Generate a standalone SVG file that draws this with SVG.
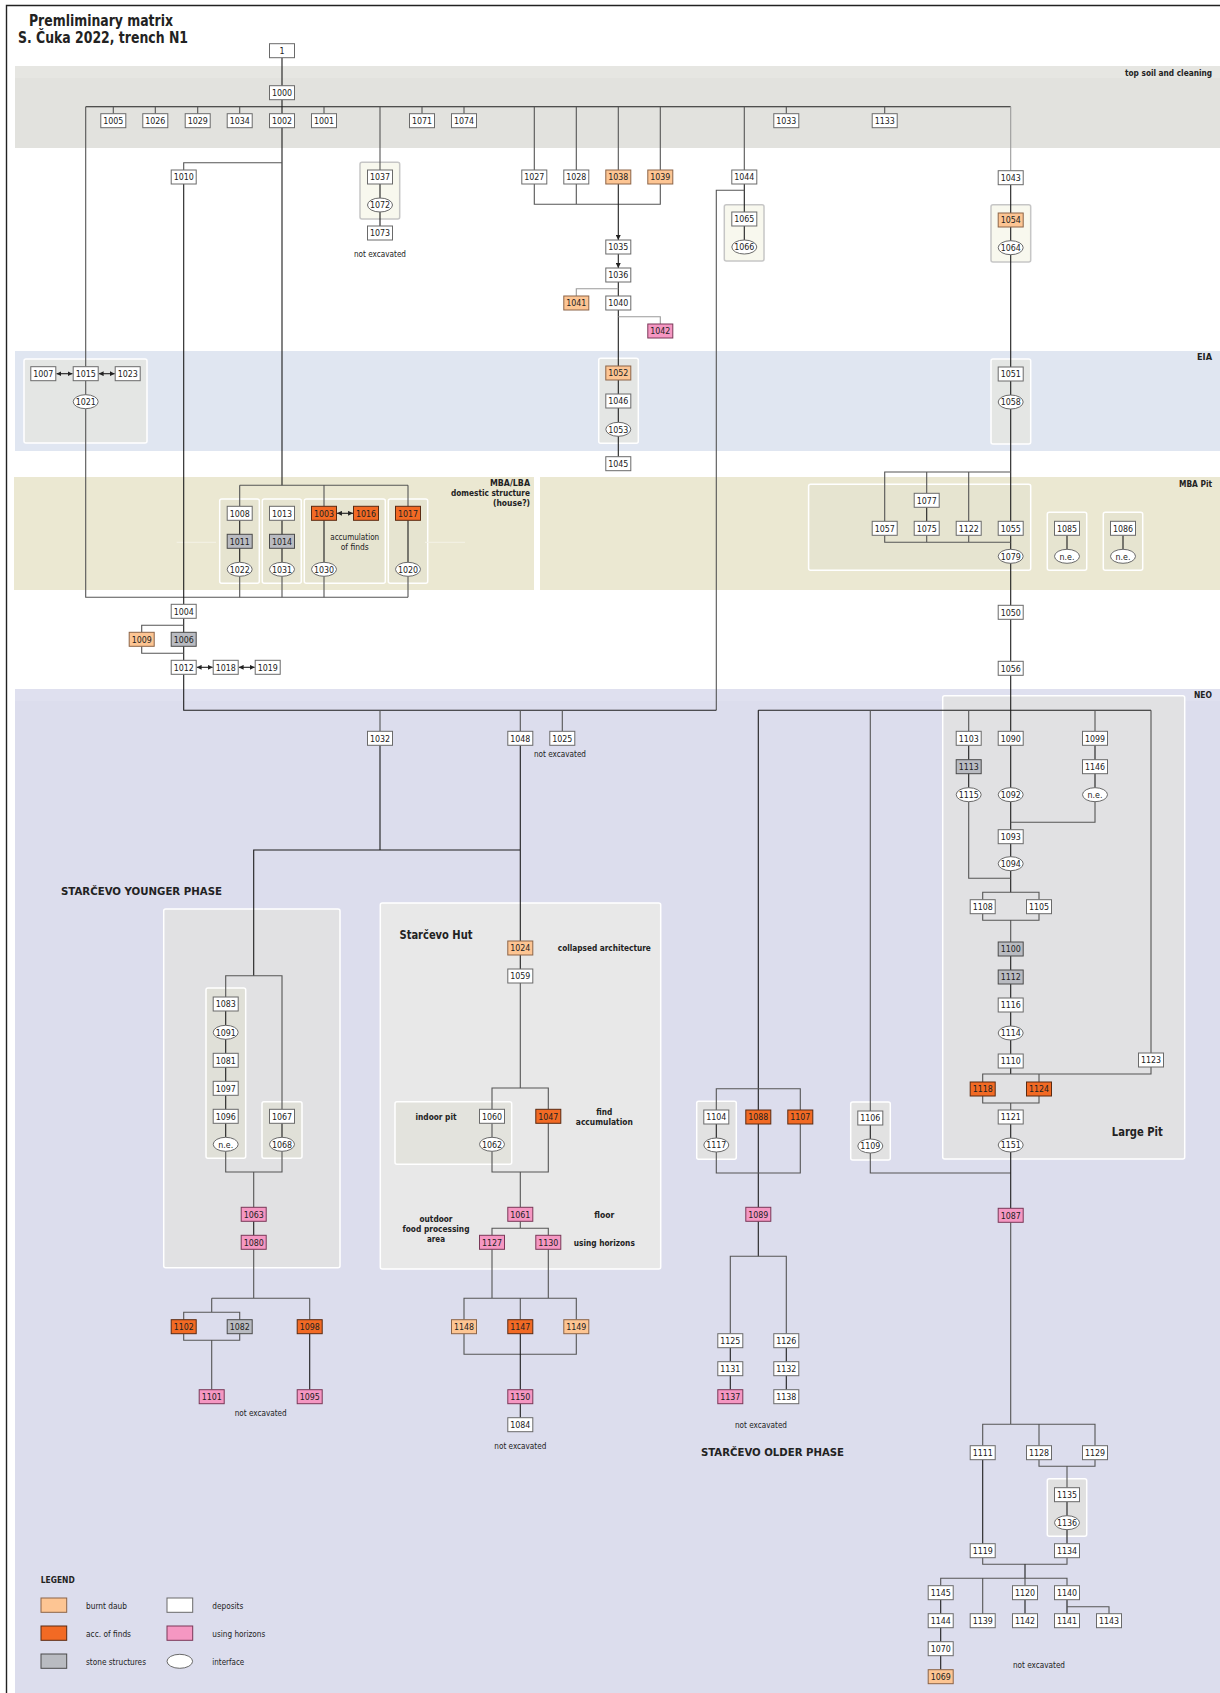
<svg xmlns="http://www.w3.org/2000/svg" width="1220" height="1693" viewBox="0 0 1220 1693">
<defs>
<style>
.nd rect{fill:#fff;stroke:#6a6a6a;stroke-width:1}
.nd ellipse{fill:#fff;stroke:#6a6a6a;stroke-width:1}
.nd.b rect{fill:#fdc593;stroke:#8c6448}
.nd.a rect{fill:#f26a24;stroke:#5a2a12}
.nd.s rect{fill:#b9bbc1;stroke:#4a4a4a}
.nd.u rect{fill:#f597c2;stroke:#7a3858}
.nd text{font-family:"DejaVu Sans Condensed","Liberation Sans",sans-serif;font-size:8.8px;fill:#222;text-anchor:middle}
.t{font-family:"DejaVu Sans Condensed","Liberation Sans",sans-serif;font-size:9px;fill:#222}
.tb{font-family:"DejaVu Sans Condensed","Liberation Sans",sans-serif;font-size:9px;font-weight:bold;fill:#222}
.m{text-anchor:middle}
.e{text-anchor:end}
.c path{fill:none;stroke-width:1.1}
.k{stroke:#1e1e1e}
.g{stroke:#555}
.l{stroke:#9a9a9a}
.bx{stroke:#fff;stroke-width:1.5}
</style>
<marker id="ah" viewBox="0 0 6 6" refX="6" refY="3" markerWidth="4.5" markerHeight="4.5" orient="auto-start-reverse"><path d="M0,0 L6,3 L0,6 z" fill="#222"/></marker>
</defs>
<rect x="0" y="0" width="1220" height="1693" fill="#fff"/>
<path d="M6.5,1693 V5.5 H1220" fill="none" stroke="#222" stroke-width="1.4"/>
<g id="bands">
<rect x="15" y="66" width="1205" height="82" fill="#e2e2de"/>
<rect x="15" y="66" width="1205" height="12" fill="#e6e6e2"/>
<rect x="15" y="351" width="1205" height="100" fill="#e0e6f1"/>
<rect x="14" y="477" width="520" height="113" fill="#ebe8d2"/>
<rect x="540" y="477" width="680" height="113" fill="#ebe8d2"/>
<rect x="15" y="689" width="1205" height="1004" fill="#dcdded"/>
<rect x="15" y="689" width="1205" height="12" fill="#dfe0ef"/>
</g>
<g id="boxes">
<rect class="bx" x="24" y="359" width="123" height="84" rx="2" fill="#e4e6e4"/>
<rect class="bx" x="598.7" y="358.3" width="39.6" height="85" rx="2" fill="#e4e6e4"/>
<rect class="bx" x="991" y="359" width="39.7" height="85" rx="2" fill="#e4e6e4"/>
<rect x="360" y="162.3" width="39.7" height="56.7" rx="2" fill="#f8f8ee" stroke="#c6c6c6" stroke-width="1.5"/>
<rect x="724.3" y="204.7" width="39.7" height="56.3" rx="2" fill="#f8f8ee" stroke="#c6c6c6" stroke-width="1.5"/>
<rect x="991" y="204.7" width="39.7" height="57.3" rx="2" fill="#f8f8ee" stroke="#c6c6c6" stroke-width="1.5"/>
<rect class="bx" x="219.7" y="499" width="39.6" height="84.3" rx="2" fill="#e6e4d0"/>
<rect class="bx" x="262.3" y="499" width="39" height="84.3" rx="2" fill="#e6e4d0"/>
<rect class="bx" x="304.3" y="499" width="81" height="84.3" rx="2" fill="#e6e4d0"/>
<rect class="bx" x="388.3" y="499" width="39.4" height="84.3" rx="2" fill="#e6e4d0"/>
<path d="M176.7,542.3 H216 M425,542.3 H465" stroke="#f4f2e6" stroke-width="1"/>
<rect class="bx" x="808.6" y="484.3" width="222.1" height="86" rx="2" fill="#e6e4d0"/>
<rect class="bx" x="1047.3" y="512.3" width="39.4" height="58" rx="2" fill="#e6e4d0"/>
<rect class="bx" x="1103.3" y="512.3" width="39.4" height="58" rx="2" fill="#e6e4d0"/>
<rect class="bx" x="942.7" y="695.7" width="242" height="463.3" rx="2" fill="#e1e1e3"/>
<rect class="bx" x="163.7" y="909" width="176.3" height="358.7" rx="2" fill="#e1e1e3"/>
<rect class="bx" x="206" y="988" width="39.7" height="170.3" rx="2" fill="#e0e0d8"/>
<rect class="bx" x="262" y="1101.7" width="40" height="56.6" rx="2" fill="#e0e0d8"/>
<rect class="bx" x="380.3" y="903" width="280.4" height="366" rx="2" fill="#e8e8e8"/>
<rect class="bx" x="395" y="1101.7" width="116.7" height="62.6" rx="2" fill="#e3e3dd"/>
<rect class="bx" x="696.7" y="1101.3" width="39.6" height="58" rx="2" fill="#e2e2e2"/>
<rect class="bx" x="850.7" y="1102" width="39.6" height="58" rx="2" fill="#e2e2e2"/>
<rect class="bx" x="1047.3" y="1478.7" width="39.4" height="57.6" rx="2" fill="#e0e0e0"/>
</g>
<g id="connectors" class="c">
<path class="k" d="M282,57.7 V86 M282,99.7 V485.3"/>
<path class="k" d="M85.7,106.7 H1010.7"/>
<path class="g" d="M113.3,106.7 V113.7 M155.3,106.7 V113.7 M197.7,106.7 V113.7 M239.7,106.7 V113.7 M324,106.7 V113.7 M422,106.7 V113.7 M464,106.7 V113.7 M786.3,106.7 V113.7 M884.7,106.7 V113.7"/>
<path class="g" d="M85.7,106.7 V366.7 M85.7,380.7 V395 M85.7,408.7 V597.3 H408"/>
<path class="g" d="M380,106.7 V170"/>
<path class="k" d="M380,184 V226"/>
<path class="g" d="M534.3,106.7 V170 M576.3,106.7 V170 M618.3,106.7 V170 M660.3,106.7 V170"/>
<path class="g" d="M534.3,184 V204.3 H660.3 V184 M576.3,184 V204.3"/>
<path class="k" d="M618.3,184 V240" marker-end="url(#ah)"/>
<path class="k" d="M618.3,254 V268" marker-end="url(#ah)"/>
<path class="k" d="M618.3,282 V366 M618.3,380 V456.7"/>
<path class="l" d="M618.3,288.7 H576.3 V296 M618.3,316.7 H660.3 V324"/>
<path class="g" d="M744.3,106.7 V170"/>
<path class="k" d="M744.3,184 V240"/>
<path class="g" d="M744.3,190.3 H716.3 V710.3"/>
<path class="l" d="M1010.7,106.7 V170.7"/>
<path class="k" d="M1010.7,184.7 V731.3 M1010.7,745.3 V892.3"/>
<path class="g" d="M1010.7,472 H884.7 V521.3 M926.7,472 V493.3 M968.7,472 V521.3"/>
<path class="k" d="M926.7,507.3 V521.3"/>
<path class="g" d="M884.7,535.3 V542.3 H1010.7 M926.7,535.3 V542.3 M968.7,535.3 V542.3"/>
<path class="k" d="M1067,535.3 V549.3 M1123,535.3 V549.3"/>
<path class="g" d="M239.7,485.3 H408 M239.7,485.3 V506.3 M324,485.3 V506.3 M408,485.3 V506.3"/>
<path class="k" d="M239.7,520.3 V562.3 M282,520.3 V562.3 M324,520.3 V562.3 M408,520.3 V562.3"/>
<path class="g" d="M239.7,576.3 V597.3 M282,576.3 V597.3 M324,576.3 V597.3 M408,576.3 V597.3"/>
<path class="g" d="M282,162.7 H183.7 V170"/>
<path class="k" d="M183.7,184 V604.3 M183.7,618.3 V660.3"/>
<path class="g" d="M183.7,625.3 H141.7 V632.3 M141.7,646.3 V653.3 H183.7"/>
<path class="k" d="M183.7,674.3 V710.3 H716.3"/>
<path class="g" d="M380,710.3 V731.3 M520.3,710.3 V731.3 M562.3,710.3 V731.3"/>
<path class="k" d="M380,745.3 V850 M253.7,975.7 V850 H520.3 M520.3,745.3 V941"/>
<path class="g" d="M225.7,997 V975.7 H282 V1109.3"/>
<path class="k" d="M225.7,1011 V1137.3 M282,1123.3 V1137.3"/>
<path class="g" d="M225.7,1151.3 V1172 H282 V1151.3 M253.7,1172 V1207.3"/>
<path class="k" d="M253.7,1221.3 V1235.3"/>
<path class="g" d="M253.7,1249.3 V1298.3 M211.7,1298.3 H309.7 M211.7,1298.3 V1312.3 M183.7,1319.7 V1312.3 H239.7 V1319.7 M183.7,1333.7 V1340.3 H239.7 V1333.7 M211.7,1340.3 V1389.7 M309.7,1298.3 V1319.7"/>
<path class="k" d="M309.7,1333.7 V1389.7"/>
<path class="k" d="M520.3,955 V969"/>
<path class="g" d="M520.3,983 V1088 M492,1109.3 V1088 H548.3 V1109.3"/>
<path class="g" d="M492,1123.3 V1137.3 M492,1151.3 V1172 H548.3 V1123.3 M520.3,1172 V1207.3"/>
<path class="g" d="M520.3,1221.3 V1228.3 M492,1235.3 V1228.3 H548.3 V1235.3"/>
<path class="g" d="M492,1249.3 V1298.3 M548.3,1249.3 V1298.3 M464,1319.7 V1298.3 H576.3 V1319.7 M520.3,1298.3 V1319.7"/>
<path class="g" d="M464,1333.7 V1354.3 H576.3 V1333.7"/>
<path class="k" d="M520.3,1333.7 V1389.7 M520.3,1403.7 V1417.7"/>
<path class="k" d="M758.3,710.3 H1151 M758.3,710.3 V1110"/>
<path class="g" d="M716.3,1110 V1088.7 H800.3 V1110"/>
<path class="k" d="M716.3,1124 V1138 M758.3,1124 V1207.3"/>
<path class="g" d="M716.3,1152 V1173 H800.3 V1124"/>
<path class="k" d="M758.3,1221.3 V1256.3"/>
<path class="g" d="M730.3,1333.7 V1256.3 H786.3 V1333.7"/>
<path class="k" d="M730.3,1347.7 V1389.7 M786.3,1347.7 V1389.7"/>
<path class="g" d="M870.3,710.3 V1111"/>
<path class="k" d="M870.3,1125 V1139"/>
<path class="g" d="M870.3,1153 V1173 H1010.7"/>
<path class="g" d="M968.7,710.3 V731.3 M1095,710.3 V731.3 M1151,710.3 V1053"/>
<path class="k" d="M968.7,745.3 V787.7 M1095,745.3 V787.7"/>
<path class="g" d="M968.7,801.7 V878.3 H1010.7 M1095,801.7 V822.3 H1010.7"/>
<path class="g" d="M982.7,899.7 V892.3 H1039 V899.7 M982.7,913.7 V920.3 H1039 V913.7 M1010.7,920.3 V942"/>
<path class="k" d="M1010.7,956 V1054 M1010.7,1068 V1074"/>
<path class="g" d="M982.7,1082 V1074 H1151 V1067 M1039,1074 V1082 M982.7,1096 V1103 H1039 V1096 M1010.7,1103 V1110"/>
<path class="k" d="M1010.7,1124 V1208.3"/>
<path class="g" d="M1010.7,1222.3 V1424.3 M982.7,1445.7 V1424.3 H1095 V1445.7 M1039,1424.3 V1445.7"/>
<path class="g" d="M1039,1459.7 V1466.3 H1095 V1459.7 M1067,1466.3 V1487.7"/>
<path class="k" d="M1067,1501.7 V1543.7 M982.7,1459.7 V1543.7"/>
<path class="g" d="M982.7,1557.7 V1564.3 H1067 V1557.7"/>
<path class="k" d="M1025,1564.3 V1578.3" stroke-width="2"/>
<path class="g" d="M940.7,1585.7 V1578.3 H1067 V1585.7 M982.7,1578.3 V1613.7 M1025,1578.3 V1585.7"/>
<path class="k" d="M940.7,1599.7 V1669.7 M1025,1599.7 V1613.7 M1067,1599.7 V1613.7"/>
<path class="g" d="M1067,1606.7 H1109 V1613.7"/>
<path class="k" d="M56.5,373.7 H72.5" marker-start="url(#ah)" marker-end="url(#ah)"/>
<path class="k" d="M98.7,373.7 H114.7" marker-start="url(#ah)" marker-end="url(#ah)"/>
<path class="k" d="M337,513.3 H353" marker-start="url(#ah)" marker-end="url(#ah)"/>
<path class="k" d="M196.7,667.3 H212.7" marker-start="url(#ah)" marker-end="url(#ah)"/>
<path class="k" d="M238.7,667.3 H254.7" marker-start="url(#ah)" marker-end="url(#ah)"/>
</g>
<g id="n1" class="nd"><rect x="269.5" y="43.7" width="25" height="14"/><text x="282" y="53.9">1</text></g>
<g id="n1000" class="nd"><rect x="269.5" y="85.7" width="25" height="14"/><text x="282" y="95.9">1000</text></g>
<g id="n1005" class="nd"><rect x="100.8" y="113.7" width="25" height="14"/><text x="113.3" y="123.9">1005</text></g>
<g id="n1026" class="nd"><rect x="142.8" y="113.7" width="25" height="14"/><text x="155.3" y="123.9">1026</text></g>
<g id="n1029" class="nd"><rect x="185.2" y="113.7" width="25" height="14"/><text x="197.7" y="123.9">1029</text></g>
<g id="n1034" class="nd"><rect x="227.2" y="113.7" width="25" height="14"/><text x="239.7" y="123.9">1034</text></g>
<g id="n1002" class="nd"><rect x="269.5" y="113.7" width="25" height="14"/><text x="282" y="123.9">1002</text></g>
<g id="n1001" class="nd"><rect x="311.5" y="113.7" width="25" height="14"/><text x="324" y="123.9">1001</text></g>
<g id="n1071" class="nd"><rect x="409.5" y="113.7" width="25" height="14"/><text x="422" y="123.9">1071</text></g>
<g id="n1074" class="nd"><rect x="451.5" y="113.7" width="25" height="14"/><text x="464" y="123.9">1074</text></g>
<g id="n1033" class="nd"><rect x="773.8" y="113.7" width="25" height="14"/><text x="786.3" y="123.9">1033</text></g>
<g id="n1133" class="nd"><rect x="872.2" y="113.7" width="25" height="14"/><text x="884.7" y="123.9">1133</text></g>
<g id="n1010" class="nd"><rect x="171.2" y="170" width="25" height="14"/><text x="183.7" y="180.2">1010</text></g>
<g id="n1037" class="nd"><rect x="367.5" y="170" width="25" height="14"/><text x="380" y="180.2">1037</text></g>
<g id="n1072" class="nd"><ellipse cx="380" cy="205" rx="12.5" ry="7"/><text x="380" y="208.2">1072</text></g>
<g id="n1073" class="nd"><rect x="367.5" y="226" width="25" height="14"/><text x="380" y="236.2">1073</text></g>
<g id="n1027" class="nd"><rect x="521.8" y="170" width="25" height="14"/><text x="534.3" y="180.2">1027</text></g>
<g id="n1028" class="nd"><rect x="563.8" y="170" width="25" height="14"/><text x="576.3" y="180.2">1028</text></g>
<g id="n1038" class="nd b"><rect x="605.8" y="170" width="25" height="14"/><text x="618.3" y="180.2">1038</text></g>
<g id="n1039" class="nd b"><rect x="647.8" y="170" width="25" height="14"/><text x="660.3" y="180.2">1039</text></g>
<g id="n1044" class="nd"><rect x="731.8" y="170" width="25" height="14"/><text x="744.3" y="180.2">1044</text></g>
<g id="n1043" class="nd"><rect x="998.2" y="170.7" width="25" height="14"/><text x="1010.7" y="180.9">1043</text></g>
<g id="n1065" class="nd"><rect x="731.8" y="212" width="25" height="14"/><text x="744.3" y="222.2">1065</text></g>
<g id="n1066" class="nd"><ellipse cx="744.3" cy="247" rx="12.5" ry="7"/><text x="744.3" y="250.2">1066</text></g>
<g id="n1054" class="nd b"><rect x="998.2" y="213" width="25" height="14"/><text x="1010.7" y="223.2">1054</text></g>
<g id="n1064" class="nd"><ellipse cx="1010.7" cy="247.7" rx="12.5" ry="7"/><text x="1010.7" y="250.9">1064</text></g>
<g id="n1035" class="nd"><rect x="605.8" y="240" width="25" height="14"/><text x="618.3" y="250.2">1035</text></g>
<g id="n1036" class="nd"><rect x="605.8" y="268" width="25" height="14"/><text x="618.3" y="278.2">1036</text></g>
<g id="n1041" class="nd b"><rect x="563.8" y="296" width="25" height="14"/><text x="576.3" y="306.2">1041</text></g>
<g id="n1040" class="nd"><rect x="605.8" y="296" width="25" height="14"/><text x="618.3" y="306.2">1040</text></g>
<g id="n1042" class="nd u"><rect x="647.8" y="324" width="25" height="14"/><text x="660.3" y="334.2">1042</text></g>
<g id="n1007" class="nd"><rect x="30.8" y="366.7" width="25" height="14"/><text x="43.3" y="376.9">1007</text></g>
<g id="n1015" class="nd"><rect x="73.2" y="366.7" width="25" height="14"/><text x="85.7" y="376.9">1015</text></g>
<g id="n1023" class="nd"><rect x="115.2" y="366.7" width="25" height="14"/><text x="127.7" y="376.9">1023</text></g>
<g id="n1021" class="nd"><ellipse cx="85.7" cy="401.7" rx="12.5" ry="7"/><text x="85.7" y="404.9">1021</text></g>
<g id="n1052" class="nd b"><rect x="605.8" y="366" width="25" height="14"/><text x="618.3" y="376.2">1052</text></g>
<g id="n1046" class="nd"><rect x="605.8" y="394" width="25" height="14"/><text x="618.3" y="404.2">1046</text></g>
<g id="n1053" class="nd"><ellipse cx="618.3" cy="429.3" rx="12.5" ry="7"/><text x="618.3" y="432.5">1053</text></g>
<g id="n1045" class="nd"><rect x="605.8" y="456.7" width="25" height="14"/><text x="618.3" y="466.9">1045</text></g>
<g id="n1051" class="nd"><rect x="998.2" y="367" width="25" height="14"/><text x="1010.7" y="377.2">1051</text></g>
<g id="n1058" class="nd"><ellipse cx="1010.7" cy="402" rx="12.5" ry="7"/><text x="1010.7" y="405.2">1058</text></g>
<g id="n1008" class="nd"><rect x="227.2" y="506.3" width="25" height="14"/><text x="239.7" y="516.5">1008</text></g>
<g id="n1013" class="nd"><rect x="269.5" y="506.3" width="25" height="14"/><text x="282" y="516.5">1013</text></g>
<g id="n1003" class="nd a"><rect x="311.5" y="506.3" width="25" height="14"/><text x="324" y="516.5">1003</text></g>
<g id="n1016" class="nd a"><rect x="353.5" y="506.3" width="25" height="14"/><text x="366" y="516.5">1016</text></g>
<g id="n1017" class="nd a"><rect x="395.5" y="506.3" width="25" height="14"/><text x="408" y="516.5">1017</text></g>
<g id="n1011" class="nd s"><rect x="227.2" y="534.3" width="25" height="14"/><text x="239.7" y="544.5">1011</text></g>
<g id="n1014" class="nd s"><rect x="269.5" y="534.3" width="25" height="14"/><text x="282" y="544.5">1014</text></g>
<g id="n1022" class="nd"><ellipse cx="239.7" cy="569.3" rx="12.5" ry="7"/><text x="239.7" y="572.5">1022</text></g>
<g id="n1031" class="nd"><ellipse cx="282" cy="569.3" rx="12.5" ry="7"/><text x="282" y="572.5">1031</text></g>
<g id="n1030" class="nd"><ellipse cx="324" cy="569.3" rx="12.5" ry="7"/><text x="324" y="572.5">1030</text></g>
<g id="n1020" class="nd"><ellipse cx="408" cy="569.3" rx="12.5" ry="7"/><text x="408" y="572.5">1020</text></g>
<g id="n1077" class="nd"><rect x="914.2" y="493.3" width="25" height="14"/><text x="926.7" y="503.5">1077</text></g>
<g id="n1057" class="nd"><rect x="872.2" y="521.3" width="25" height="14"/><text x="884.7" y="531.5">1057</text></g>
<g id="n1075" class="nd"><rect x="914.2" y="521.3" width="25" height="14"/><text x="926.7" y="531.5">1075</text></g>
<g id="n1122" class="nd"><rect x="956.2" y="521.3" width="25" height="14"/><text x="968.7" y="531.5">1122</text></g>
<g id="n1055" class="nd"><rect x="998.2" y="521.3" width="25" height="14"/><text x="1010.7" y="531.5">1055</text></g>
<g id="n1079" class="nd"><ellipse cx="1010.7" cy="556.3" rx="12.5" ry="7"/><text x="1010.7" y="559.5">1079</text></g>
<g id="n1085" class="nd"><rect x="1054.5" y="521.3" width="25" height="14"/><text x="1067" y="531.5">1085</text></g>
<g id="n1085ne" class="nd"><ellipse cx="1067" cy="556.3" rx="12.5" ry="7"/><text x="1067" y="559.5">n.e.</text></g>
<g id="n1086" class="nd"><rect x="1110.5" y="521.3" width="25" height="14"/><text x="1123" y="531.5">1086</text></g>
<g id="n1086ne" class="nd"><ellipse cx="1123" cy="556.3" rx="12.5" ry="7"/><text x="1123" y="559.5">n.e.</text></g>
<g id="n1004" class="nd"><rect x="171.2" y="604.3" width="25" height="14"/><text x="183.7" y="614.5">1004</text></g>
<g id="n1009" class="nd b"><rect x="129.2" y="632.3" width="25" height="14"/><text x="141.7" y="642.5">1009</text></g>
<g id="n1006" class="nd s"><rect x="171.2" y="632.3" width="25" height="14"/><text x="183.7" y="642.5">1006</text></g>
<g id="n1012" class="nd"><rect x="171.2" y="660.3" width="25" height="14"/><text x="183.7" y="670.5">1012</text></g>
<g id="n1018" class="nd"><rect x="213.2" y="660.3" width="25" height="14"/><text x="225.7" y="670.5">1018</text></g>
<g id="n1019" class="nd"><rect x="255.2" y="660.3" width="25" height="14"/><text x="267.7" y="670.5">1019</text></g>
<g id="n1050" class="nd"><rect x="998.2" y="605.3" width="25" height="14"/><text x="1010.7" y="615.5">1050</text></g>
<g id="n1056" class="nd"><rect x="998.2" y="661.3" width="25" height="14"/><text x="1010.7" y="671.5">1056</text></g>
<g id="n1032" class="nd"><rect x="367.5" y="731.3" width="25" height="14"/><text x="380" y="741.5">1032</text></g>
<g id="n1048" class="nd"><rect x="507.8" y="731.3" width="25" height="14"/><text x="520.3" y="741.5">1048</text></g>
<g id="n1025" class="nd"><rect x="549.8" y="731.3" width="25" height="14"/><text x="562.3" y="741.5">1025</text></g>
<g id="n1103" class="nd"><rect x="956.2" y="731.3" width="25" height="14"/><text x="968.7" y="741.5">1103</text></g>
<g id="n1090" class="nd"><rect x="998.2" y="731.3" width="25" height="14"/><text x="1010.7" y="741.5">1090</text></g>
<g id="n1099" class="nd"><rect x="1082.5" y="731.3" width="25" height="14"/><text x="1095" y="741.5">1099</text></g>
<g id="n1113" class="nd s"><rect x="956.2" y="759.7" width="25" height="14"/><text x="968.7" y="769.9">1113</text></g>
<g id="n1146" class="nd"><rect x="1082.5" y="759.7" width="25" height="14"/><text x="1095" y="769.9">1146</text></g>
<g id="n1115" class="nd"><ellipse cx="968.7" cy="794.7" rx="12.5" ry="7"/><text x="968.7" y="797.9">1115</text></g>
<g id="n1092" class="nd"><ellipse cx="1010.7" cy="794.7" rx="12.5" ry="7"/><text x="1010.7" y="797.9">1092</text></g>
<g id="n1146ne" class="nd"><ellipse cx="1095" cy="794.7" rx="12.5" ry="7"/><text x="1095" y="797.9">n.e.</text></g>
<g id="n1093" class="nd"><rect x="998.2" y="829.7" width="25" height="14"/><text x="1010.7" y="839.9">1093</text></g>
<g id="n1094" class="nd"><ellipse cx="1010.7" cy="863.7" rx="12.5" ry="7"/><text x="1010.7" y="866.9">1094</text></g>
<g id="n1108" class="nd"><rect x="970.2" y="899.7" width="25" height="14"/><text x="982.7" y="909.9">1108</text></g>
<g id="n1105" class="nd"><rect x="1026.5" y="899.7" width="25" height="14"/><text x="1039" y="909.9">1105</text></g>
<g id="n1100" class="nd s"><rect x="998.2" y="942" width="25" height="14"/><text x="1010.7" y="952.2">1100</text></g>
<g id="n1112" class="nd s"><rect x="998.2" y="970" width="25" height="14"/><text x="1010.7" y="980.2">1112</text></g>
<g id="n1116" class="nd"><rect x="998.2" y="998" width="25" height="14"/><text x="1010.7" y="1008.2">1116</text></g>
<g id="n1114" class="nd"><ellipse cx="1010.7" cy="1033" rx="12.5" ry="7"/><text x="1010.7" y="1036.2">1114</text></g>
<g id="n1110" class="nd"><rect x="998.2" y="1054" width="25" height="14"/><text x="1010.7" y="1064.2">1110</text></g>
<g id="n1123" class="nd"><rect x="1138.5" y="1053" width="25" height="14"/><text x="1151" y="1063.2">1123</text></g>
<g id="n1118" class="nd a"><rect x="970.2" y="1082" width="25" height="14"/><text x="982.7" y="1092.2">1118</text></g>
<g id="n1124" class="nd a"><rect x="1026.5" y="1082" width="25" height="14"/><text x="1039" y="1092.2">1124</text></g>
<g id="n1121" class="nd"><rect x="998.2" y="1110" width="25" height="14"/><text x="1010.7" y="1120.2">1121</text></g>
<g id="n1151" class="nd"><ellipse cx="1010.7" cy="1145" rx="12.5" ry="7"/><text x="1010.7" y="1148.2">1151</text></g>
<g id="n1106" class="nd"><rect x="857.8" y="1111" width="25" height="14"/><text x="870.3" y="1121.2">1106</text></g>
<g id="n1109" class="nd"><ellipse cx="870.3" cy="1146" rx="12.5" ry="7"/><text x="870.3" y="1149.2">1109</text></g>
<g id="n1087" class="nd u"><rect x="998.2" y="1208.3" width="25" height="14"/><text x="1010.7" y="1218.5">1087</text></g>
<g id="n1083" class="nd"><rect x="213.2" y="997" width="25" height="14"/><text x="225.7" y="1007.2">1083</text></g>
<g id="n1091" class="nd"><ellipse cx="225.7" cy="1032.3" rx="12.5" ry="7"/><text x="225.7" y="1035.5">1091</text></g>
<g id="n1081" class="nd"><rect x="213.2" y="1053.3" width="25" height="14"/><text x="225.7" y="1063.5">1081</text></g>
<g id="n1097" class="nd"><rect x="213.2" y="1081.3" width="25" height="14"/><text x="225.7" y="1091.5">1097</text></g>
<g id="n1096" class="nd"><rect x="213.2" y="1109.3" width="25" height="14"/><text x="225.7" y="1119.5">1096</text></g>
<g id="n1096ne" class="nd"><ellipse cx="225.7" cy="1144.3" rx="12.5" ry="7"/><text x="225.7" y="1147.5">n.e.</text></g>
<g id="n1067" class="nd"><rect x="269.5" y="1109.3" width="25" height="14"/><text x="282" y="1119.5">1067</text></g>
<g id="n1068" class="nd"><ellipse cx="282" cy="1144.3" rx="12.5" ry="7"/><text x="282" y="1147.5">1068</text></g>
<g id="n1063" class="nd u"><rect x="241.2" y="1207.3" width="25" height="14"/><text x="253.7" y="1217.5">1063</text></g>
<g id="n1080" class="nd u"><rect x="241.2" y="1235.3" width="25" height="14"/><text x="253.7" y="1245.5">1080</text></g>
<g id="n1102" class="nd a"><rect x="171.2" y="1319.7" width="25" height="14"/><text x="183.7" y="1329.9">1102</text></g>
<g id="n1082" class="nd s"><rect x="227.2" y="1319.7" width="25" height="14"/><text x="239.7" y="1329.9">1082</text></g>
<g id="n1098" class="nd a"><rect x="297.2" y="1319.7" width="25" height="14"/><text x="309.7" y="1329.9">1098</text></g>
<g id="n1101" class="nd u"><rect x="199.2" y="1389.7" width="25" height="14"/><text x="211.7" y="1399.9">1101</text></g>
<g id="n1095" class="nd u"><rect x="297.2" y="1389.7" width="25" height="14"/><text x="309.7" y="1399.9">1095</text></g>
<g id="n1024" class="nd b"><rect x="507.8" y="941" width="25" height="14"/><text x="520.3" y="951.2">1024</text></g>
<g id="n1059" class="nd"><rect x="507.8" y="969" width="25" height="14"/><text x="520.3" y="979.2">1059</text></g>
<g id="n1060" class="nd"><rect x="479.5" y="1109.3" width="25" height="14"/><text x="492" y="1119.5">1060</text></g>
<g id="n1062" class="nd"><ellipse cx="492" cy="1144.3" rx="12.5" ry="7"/><text x="492" y="1147.5">1062</text></g>
<g id="n1047" class="nd a"><rect x="535.8" y="1109.3" width="25" height="14"/><text x="548.3" y="1119.5">1047</text></g>
<g id="n1061" class="nd u"><rect x="507.8" y="1207.3" width="25" height="14"/><text x="520.3" y="1217.5">1061</text></g>
<g id="n1127" class="nd u"><rect x="479.5" y="1235.3" width="25" height="14"/><text x="492" y="1245.5">1127</text></g>
<g id="n1130" class="nd u"><rect x="535.8" y="1235.3" width="25" height="14"/><text x="548.3" y="1245.5">1130</text></g>
<g id="n1148" class="nd b"><rect x="451.5" y="1319.7" width="25" height="14"/><text x="464" y="1329.9">1148</text></g>
<g id="n1147" class="nd a"><rect x="507.8" y="1319.7" width="25" height="14"/><text x="520.3" y="1329.9">1147</text></g>
<g id="n1149" class="nd b"><rect x="563.8" y="1319.7" width="25" height="14"/><text x="576.3" y="1329.9">1149</text></g>
<g id="n1150" class="nd u"><rect x="507.8" y="1389.7" width="25" height="14"/><text x="520.3" y="1399.9">1150</text></g>
<g id="n1084" class="nd"><rect x="507.8" y="1417.7" width="25" height="14"/><text x="520.3" y="1427.9">1084</text></g>
<g id="n1104" class="nd"><rect x="703.8" y="1110" width="25" height="14"/><text x="716.3" y="1120.2">1104</text></g>
<g id="n1117" class="nd"><ellipse cx="716.3" cy="1145" rx="12.5" ry="7"/><text x="716.3" y="1148.2">1117</text></g>
<g id="n1088" class="nd a"><rect x="745.8" y="1110" width="25" height="14"/><text x="758.3" y="1120.2">1088</text></g>
<g id="n1107" class="nd a"><rect x="787.8" y="1110" width="25" height="14"/><text x="800.3" y="1120.2">1107</text></g>
<g id="n1089" class="nd u"><rect x="745.8" y="1207.3" width="25" height="14"/><text x="758.3" y="1217.5">1089</text></g>
<g id="n1125" class="nd"><rect x="717.8" y="1333.7" width="25" height="14"/><text x="730.3" y="1343.9">1125</text></g>
<g id="n1126" class="nd"><rect x="773.8" y="1333.7" width="25" height="14"/><text x="786.3" y="1343.9">1126</text></g>
<g id="n1131" class="nd"><rect x="717.8" y="1361.7" width="25" height="14"/><text x="730.3" y="1371.9">1131</text></g>
<g id="n1132" class="nd"><rect x="773.8" y="1361.7" width="25" height="14"/><text x="786.3" y="1371.9">1132</text></g>
<g id="n1137" class="nd u"><rect x="717.8" y="1389.7" width="25" height="14"/><text x="730.3" y="1399.9">1137</text></g>
<g id="n1138" class="nd"><rect x="773.8" y="1389.7" width="25" height="14"/><text x="786.3" y="1399.9">1138</text></g>
<g id="n1111" class="nd"><rect x="970.2" y="1445.7" width="25" height="14"/><text x="982.7" y="1455.9">1111</text></g>
<g id="n1128" class="nd"><rect x="1026.5" y="1445.7" width="25" height="14"/><text x="1039" y="1455.9">1128</text></g>
<g id="n1129" class="nd"><rect x="1082.5" y="1445.7" width="25" height="14"/><text x="1095" y="1455.9">1129</text></g>
<g id="n1135" class="nd"><rect x="1054.5" y="1487.7" width="25" height="14"/><text x="1067" y="1497.9">1135</text></g>
<g id="n1136" class="nd"><ellipse cx="1067" cy="1522.7" rx="12.5" ry="7"/><text x="1067" y="1525.9">1136</text></g>
<g id="n1119" class="nd"><rect x="970.2" y="1543.7" width="25" height="14"/><text x="982.7" y="1553.9">1119</text></g>
<g id="n1134" class="nd"><rect x="1054.5" y="1543.7" width="25" height="14"/><text x="1067" y="1553.9">1134</text></g>
<g id="n1145" class="nd"><rect x="928.2" y="1585.7" width="25" height="14"/><text x="940.7" y="1595.9">1145</text></g>
<g id="n1120" class="nd"><rect x="1012.5" y="1585.7" width="25" height="14"/><text x="1025" y="1595.9">1120</text></g>
<g id="n1140" class="nd"><rect x="1054.5" y="1585.7" width="25" height="14"/><text x="1067" y="1595.9">1140</text></g>
<g id="n1144" class="nd"><rect x="928.2" y="1613.7" width="25" height="14"/><text x="940.7" y="1623.9">1144</text></g>
<g id="n1139" class="nd"><rect x="970.2" y="1613.7" width="25" height="14"/><text x="982.7" y="1623.9">1139</text></g>
<g id="n1142" class="nd"><rect x="1012.5" y="1613.7" width="25" height="14"/><text x="1025" y="1623.9">1142</text></g>
<g id="n1141" class="nd"><rect x="1054.5" y="1613.7" width="25" height="14"/><text x="1067" y="1623.9">1141</text></g>
<g id="n1143" class="nd"><rect x="1096.5" y="1613.7" width="25" height="14"/><text x="1109" y="1623.9">1143</text></g>
<g id="n1070" class="nd"><rect x="928.2" y="1641.7" width="25" height="14"/><text x="940.7" y="1651.9">1070</text></g>
<g id="n1069" class="nd b"><rect x="928.2" y="1669.7" width="25" height="14"/><text x="940.7" y="1679.9">1069</text></g>
<g id="labels">
<text class="tb" x="29" y="26" textLength="144" lengthAdjust="spacingAndGlyphs" style="font-size:15px">Premliminary matrix</text>
<text class="tb" x="18" y="43" style="font-size:15px" textLength="170" lengthAdjust="spacingAndGlyphs">S. Čuka 2022, trench N1</text>
<text class="tb e" x="1212" y="75.5" textLength="87" lengthAdjust="spacingAndGlyphs">top soil and cleaning</text>
<text class="tb e" x="1212" y="360" textLength="15" lengthAdjust="spacingAndGlyphs">EIA</text>
<text class="tb e" x="530" y="485.5" textLength="40" lengthAdjust="spacingAndGlyphs">MBA/LBA</text>
<text class="tb e" x="530" y="495.7" textLength="79" lengthAdjust="spacingAndGlyphs">domestic structure</text>
<text class="tb e" x="530" y="505.8" textLength="37" lengthAdjust="spacingAndGlyphs">(house?)</text>
<text class="tb e" x="1212" y="486.5" textLength="33" lengthAdjust="spacingAndGlyphs">MBA Pit</text>
<text class="tb e" x="1212" y="698" textLength="18" lengthAdjust="spacingAndGlyphs">NEO</text>
<text class="t m" x="354.7" y="539.8" textLength="49" lengthAdjust="spacingAndGlyphs">accumulation</text>
<text class="t m" x="354.7" y="549.8" textLength="28" lengthAdjust="spacingAndGlyphs">of finds</text>
<text class="t m" x="380" y="257" textLength="52" lengthAdjust="spacingAndGlyphs">not excavated</text>
<text class="t m" x="560" y="757" textLength="52" lengthAdjust="spacingAndGlyphs">not excavated</text>
<text class="t m" x="260.7" y="1416.2" textLength="52" lengthAdjust="spacingAndGlyphs">not excavated</text>
<text class="t m" x="520.3" y="1449" textLength="52" lengthAdjust="spacingAndGlyphs">not excavated</text>
<text class="t m" x="761" y="1428" textLength="52" lengthAdjust="spacingAndGlyphs">not excavated</text>
<text class="t m" x="1039" y="1667.5" textLength="52" lengthAdjust="spacingAndGlyphs">not excavated</text>
<text class="tb" x="61" y="894.5" style="font-size:11px" textLength="161" lengthAdjust="spacingAndGlyphs">STARČEVO YOUNGER PHASE</text>
<text class="tb" x="701" y="1455.5" style="font-size:11px" textLength="143" lengthAdjust="spacingAndGlyphs">STARČEVO OLDER PHASE</text>
<text class="tb" x="399.5" y="938.7" style="font-size:12px" textLength="73" lengthAdjust="spacingAndGlyphs">Starčevo Hut</text>
<text class="tb m" x="604.3" y="951.2" textLength="93" lengthAdjust="spacingAndGlyphs">collapsed architecture</text>
<text class="tb m" x="604.3" y="1114.5" textLength="16" lengthAdjust="spacingAndGlyphs">find</text>
<text class="tb m" x="604.3" y="1124.5" textLength="57" lengthAdjust="spacingAndGlyphs">accumulation</text>
<text class="tb m" x="436" y="1119.5" textLength="41" lengthAdjust="spacingAndGlyphs">indoor pit</text>
<text class="tb m" x="604.3" y="1217.5" textLength="20" lengthAdjust="spacingAndGlyphs">floor</text>
<text class="tb m" x="604.3" y="1245.5" textLength="61" lengthAdjust="spacingAndGlyphs">using horizons</text>
<text class="tb m" x="436" y="1221.5" textLength="33" lengthAdjust="spacingAndGlyphs">outdoor</text>
<text class="tb m" x="436" y="1231.8" textLength="67" lengthAdjust="spacingAndGlyphs">food processing</text>
<text class="tb m" x="436" y="1241.9" textLength="18" lengthAdjust="spacingAndGlyphs">area</text>
<text class="tb m" x="1137.3" y="1136.3" style="font-size:12px" textLength="51" lengthAdjust="spacingAndGlyphs">Large Pit</text>
</g>
<g id="legend">
<text class="tb" x="40.7" y="1583.2" textLength="34" lengthAdjust="spacingAndGlyphs">LEGEND</text>
<rect x="41" y="1598" width="25.7" height="14.3" fill="#fdc593" stroke="#8c6448"/>
<rect x="41" y="1626" width="25.7" height="14.3" fill="#f26a24" stroke="#5a2a12"/>
<rect x="41" y="1654" width="25.7" height="14.3" fill="#b9bbc1" stroke="#4a4a4a"/>
<rect x="167" y="1598" width="25.7" height="14.3" fill="#fff" stroke="#6a6a6a"/>
<rect x="167" y="1626" width="25.7" height="14.3" fill="#f597c2" stroke="#7a3858"/>
<ellipse cx="179.8" cy="1661.3" rx="12.8" ry="7" fill="#fff" stroke="#6a6a6a"/>
<text class="t" x="86" y="1608.5" textLength="41" lengthAdjust="spacingAndGlyphs">burnt daub</text>
<text class="t" x="86" y="1636.5" textLength="45" lengthAdjust="spacingAndGlyphs">acc. of finds</text>
<text class="t" x="86" y="1664.5" textLength="60" lengthAdjust="spacingAndGlyphs">stone structures</text>
<text class="t" x="212.3" y="1608.5" textLength="31" lengthAdjust="spacingAndGlyphs">deposits</text>
<text class="t" x="212.3" y="1636.5" textLength="53" lengthAdjust="spacingAndGlyphs">using horizons</text>
<text class="t" x="212.3" y="1664.5" textLength="32" lengthAdjust="spacingAndGlyphs">interface</text>
</g>
</svg>
